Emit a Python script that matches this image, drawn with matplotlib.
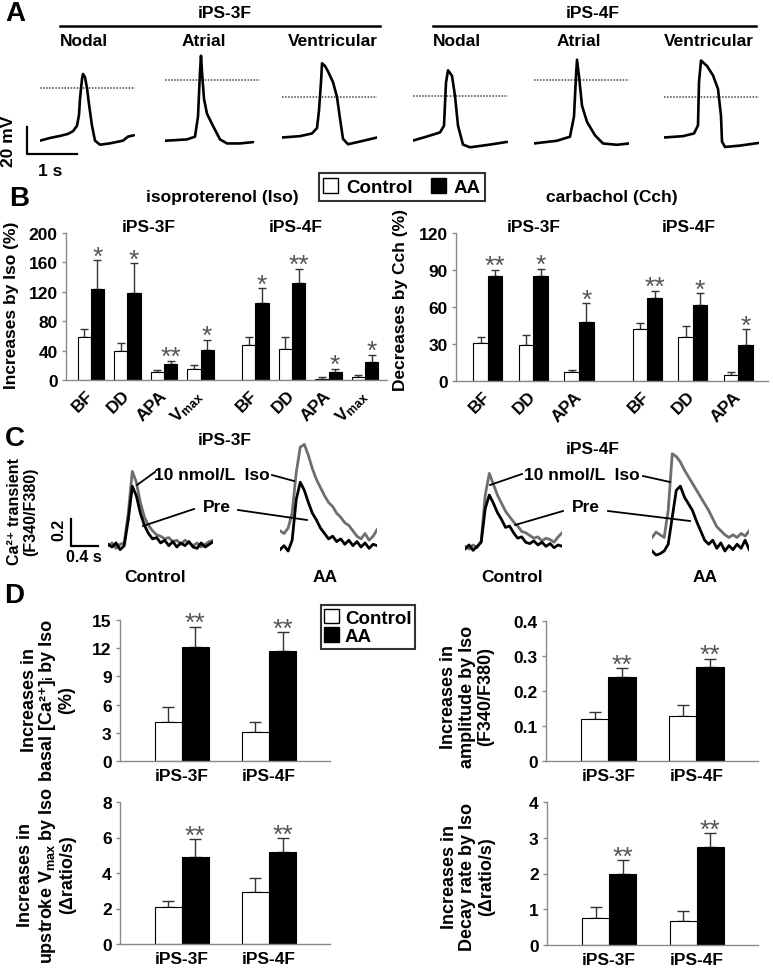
import numpy as np
import matplotlib
matplotlib.use("Agg")
import matplotlib.pyplot as plt
from matplotlib.patches import Patch
from matplotlib.lines import Line2D

plt.rcParams['font.family'] = ['Liberation Sans', 'DejaVu Sans']
plt.rcParams['font.weight'] = 'bold'
plt.rcParams['font.size'] = 12
plt.rcParams['mathtext.fontset'] = 'custom'
plt.rcParams['mathtext.rm'] = 'Liberation Sans:bold'
plt.rcParams['mathtext.bf'] = 'Liberation Sans:bold'
plt.rcParams['mathtext.it'] = 'Liberation Sans:bold:italic'

W, H = 773, 970

# ---- A: action potentials (time in s, membrane potential in mV, 0 mV = dotted line)
ap_3f_nodal_t = [0, 0.2, 0.4, 0.56, 0.66, 0.74, 0.78, 0.8, 0.84, 0.86, 0.9, 0.94, 0.98, 1.04, 1.1, 1.2, 1.4, 1.66, 1.76, 1.88]
ap_3f_nodal_v = [-39, -37, -35.5, -34, -32, -28, -20, -8, 6.7, 10.4, 8, 0, -12, -28, -39, -42, -41, -39, -36, -35]
ap_3f_atrial_t = [0, 0.44, 0.6, 0.66, 0.7, 0.72, 0.74, 0.78, 0.84, 0.96, 1.1, 1.24, 1.5, 1.76]
ap_3f_atrial_v = [-45, -44, -42, -27, 6, 18, 6, -14, -25, -34, -44, -47, -47, -46]
ap_3f_ventr_t = [0, 0.36, 0.6, 0.7, 0.74, 0.78, 0.8, 0.86, 0.92, 1.02, 1.1, 1.16, 1.22, 1.32, 1.56, 1.9]
ap_3f_ventr_v = [-30, -29, -27, -23, -10, 11, 25, 23, 19, 11, 0, -16, -31, -35, -33, -30]
ap_4f_nodal_t = [0, 0.28, 0.54, 0.62, 0.66, 0.7, 0.78, 0.84, 0.9, 1.0, 1.14, 1.54, 1.88]
ap_4f_nodal_v = [-33, -30, -27, -22, 10, 19, 15, 0, -22, -36, -38, -36, -34]
ap_4f_atrial_t = [0, 0.46, 0.72, 0.8, 0.84, 0.86, 0.9, 0.96, 1.06, 1.22, 1.38, 1.66, 1.9]
ap_4f_atrial_v = [-47, -45, -42, -27, 3, 15, 3, -19, -31, -41, -47, -48, -47]
ap_4f_ventr_t = [0, 0.38, 0.6, 0.68, 0.7, 0.74, 0.8, 0.86, 0.98, 1.08, 1.14, 1.16, 1.22, 1.52, 1.9]
ap_4f_ventr_v = [-30, -29, -27, -21, 11, 27, 25, 23, 16, 6, -14, -33, -37, -36, -34]
ap_names = ["Nodal", "Atrial", "Ventricular"]

# ---- B: isoproterenol / carbachol responses
iso_labels = ["BF", "DD", "APA", r"V$_{\mathregular{max}}$"]
iso_ctrl_3f, iso_ctrl_3f_err = [58, 39, 11, 15], [12, 11, 3, 5]
iso_aa_3f, iso_aa_3f_err = [124, 118, 22, 41], [39, 41, 4, 14]
iso_ctrl_4f, iso_ctrl_4f_err = [48, 42, 2, 4], [10, 17, 2, 3]
iso_aa_4f, iso_aa_4f_err = [105, 132, 11, 24], [20, 19, 4, 10]
iso_sig_3f = ["*", "*", "**", "*"]
iso_sig_4f = ["*", "**", "*", "*"]

cch_labels = ["BF", "DD", "APA"]
cch_ctrl_3f, cch_ctrl_3f_err = [31, 29, 7], [5, 8, 2]
cch_aa_3f, cch_aa_3f_err = [85, 85, 48], [5, 6, 15]
cch_ctrl_4f, cch_ctrl_4f_err = [42, 36, 5], [5, 9, 2]
cch_aa_4f, cch_aa_4f_err = [67, 62, 29], [6, 9, 13]
cch_sig_3f = ["**", "*", "*"]
cch_sig_4f = ["**", "*", "*"]

# ---- C: Ca2+ transients (F340/F380 above baseline), sampled every 0.06 s
ca_dt = 0.06
ca_3f_ctrl_pre = [0.02, 0.00, 0.03, -0.02, 0.01, 0.20, 0.45, 0.38, 0.25, 0.16, 0.10, 0.06, 0.07, 0.03,
                  0.05, 0.01, 0.04, 0.00, 0.03, 0.01, 0.04, 0.00, -0.01, 0.03, 0.00, 0.02, 0.04]
ca_3f_ctrl_iso = [0.01, 0.03, -0.01, 0.02, 0.03, 0.25, 0.56, 0.48, 0.33, 0.22, 0.16, 0.12, 0.09, 0.08,
                  0.06, 0.07, 0.04, 0.05, 0.02, 0.05, 0.03, 0.01, 0.03, 0.00, 0.02, 0.04, 0.05]
ca_3f_aa_pre = [-0.02, 0.01, -0.03, 0.05, 0.35, 0.48, 0.42, 0.33, 0.25, 0.20, 0.14, 0.10, 0.06, 0.08,
                0.04, 0.06, 0.02, 0.05, 0.01, 0.04, 0.00, 0.03, -0.01, 0.02, 0.01]
ca_3f_aa_iso = [0.12, 0.10, 0.14, 0.25, 0.55, 0.74, 0.76, 0.68, 0.58, 0.50, 0.44, 0.38, 0.33, 0.30,
                0.25, 0.22, 0.18, 0.16, 0.12, 0.08, 0.06, 0.10, 0.05, 0.08, 0.13]
ca_4f_ctrl_pre = [0.00, 0.03, -0.01, 0.02, 0.05, 0.30, 0.40, 0.34, 0.27, 0.22, 0.16, 0.17, 0.12, 0.08,
                  0.09, 0.05, 0.04, 0.06, 0.03, 0.05, 0.02, 0.04, 0.01, 0.03, 0.02]
ca_4f_ctrl_iso = [0.02, 0.00, 0.03, 0.01, 0.06, 0.40, 0.56, 0.48, 0.40, 0.34, 0.28, 0.24, 0.20, 0.17,
                  0.13, 0.12, 0.10, 0.08, 0.09, 0.06, 0.08, 0.07, 0.05, 0.09, 0.12]
ca_4f_aa_pre = [0.00, -0.03, -0.02, 0.00, 0.05, 0.25, 0.45, 0.48, 0.40, 0.35, 0.30, 0.22, 0.15, 0.08,
                0.05, 0.08, 0.02, 0.06, 0.00, 0.04, 0.01, 0.05, 0.02, 0.08, 0.01]
ca_4f_aa_iso = [0.10, 0.14, 0.12, 0.10, 0.30, 0.72, 0.70, 0.66, 0.60, 0.55, 0.50, 0.45, 0.40, 0.35,
                0.30, 0.24, 0.18, 0.15, 0.12, 0.10, 0.12, 0.10, 0.13, 0.11, 0.15]

# ---- D: Iso effects on Ca2+ handling
d_groups = ["iPS-3F", "iPS-4F"]
basal_ctrl, basal_ctrl_err = [4.1, 3.1], [1.6, 1.0]
basal_aa, basal_aa_err = [12.1, 11.7], [2.2, 2.0]
ampl_ctrl, ampl_ctrl_err = [0.12, 0.13], [0.02, 0.03]
ampl_aa, ampl_aa_err = [0.24, 0.27], [0.025, 0.022]
upvmax_ctrl, upvmax_ctrl_err = [2.1, 2.95], [0.35, 0.75]
upvmax_aa, upvmax_aa_err = [4.9, 5.2], [1.0, 0.75]
decay_ctrl, decay_ctrl_err = [0.76, 0.68], [0.3, 0.28]
decay_aa, decay_aa_err = [2.0, 2.75], [0.37, 0.37]
d_sig = ["**", "**"]

fig = plt.figure(figsize=(W / 100, H / 100), dpi=100)


def fx(x):
    return x / W


def fy(y):
    return 1 - y / H


def px_axes(x0, y0, x1, y1):
    return fig.add_axes([x0 / W, 1 - y1 / H, (x1 - x0) / W, (y1 - y0) / H])


def txt(x, y, s, **kw):
    kw.setdefault('ha', 'center')
    kw.setdefault('va', 'center')
    fig.text(fx(x), fy(y), s, **kw)


def seg(x0, y0, x1, y1, lw=1.3):
    fig.add_artist(Line2D([fx(x0), fx(x1)], [fy(y0), fy(y1)], color='black', lw=lw))


def style(ax):
    for s in ['top', 'right']:
        ax.spines[s].set_visible(False)
    for s in ['left', 'bottom']:
        ax.spines[s].set_color('#8a8a8a')
        ax.spines[s].set_linewidth(1)
    ax.tick_params(axis='y', length=3, color='#8a8a8a', width=1, pad=3, labelsize=12.5)
    ax.tick_params(axis='x', length=0, labelsize=12.5)


def bars(ax, pos, ctrl, ctrl_err, aa, aa_err, sig, w, cap=3, star_off=-6):
    pos = np.asarray(pos, dtype=float)
    ax.bar(pos - w / 2, ctrl, w, color='white', edgecolor='black', lw=0.8, zorder=2)
    ax.bar(pos + w / 2, aa, w, color='black', edgecolor='black', lw=0.8, zorder=2)
    ax.errorbar(pos - w / 2, ctrl, yerr=[np.zeros(len(ctrl)), ctrl_err], fmt='none',
                ecolor='#333333', elinewidth=1, capsize=cap, capthick=1, zorder=1)
    ax.errorbar(pos + w / 2, aa, yerr=[np.zeros(len(aa)), aa_err], fmt='none',
                ecolor='#333333', elinewidth=1, capsize=cap, capthick=1, zorder=1)
    for x, v, e, s in zip(pos + w / 2, aa, aa_err, sig):
        ax.annotate(s, (x, v + e), xytext=(0, star_off), textcoords='offset points',
                    ha='center', va='bottom', color='#555555', fontsize=19, fontweight='normal')


# ================= Panel A =================
txt(15, 14, "A", fontsize=20)
txt(225, 14, "iPS-3F", fontsize=12.5)
txt(593, 14, "iPS-4F", fontsize=12.5)
seg(60, 27, 380, 27, lw=1.8)
seg(433, 27, 756, 27, lw=1.8)
for x, name in zip([84, 204, 333], ap_names):
    txt(x, 42, name, fontsize=12.5)
for x, name in zip([457, 579, 709], ap_names):
    txt(x, 42, name, fontsize=12.5)

ap_traces = [(ap_3f_nodal_t, ap_3f_nodal_v), (ap_3f_atrial_t, ap_3f_atrial_v),
             (ap_3f_ventr_t, ap_3f_ventr_v), (ap_4f_nodal_t, ap_4f_nodal_v),
             (ap_4f_atrial_t, ap_4f_atrial_v), (ap_4f_ventr_t, ap_4f_ventr_v)]
ap_left = [40, 165, 282, 413, 534, 664]
ap_zero = [89, 81, 98, 97, 81, 98]
PX_S, PX_MV = 50, 1.35
for (t, v), x0, yz in zip(ap_traces, ap_left, ap_zero):
    ax = px_axes(x0, 45, x0 + 1.9 * PX_S, 165)
    ax.set_xlim(0, 1.9)
    ax.set_ylim(-(165 - yz) / PX_MV, (yz - 45) / PX_MV)
    ax.axhline(0, color='#444444', lw=1.1, ls=(0, (1, 1)))
    ax.plot(t, v, color='black', lw=1.9, solid_joinstyle='round', solid_capstyle='round')
    ax.axis('off')

# scale bar: 1 s x 20 mV
sb_a = (1, 20)
ax = px_axes(27, 128, 27 + sb_a[0] * PX_S, 128 + sb_a[1] * PX_MV)
ax.plot([0, 0, sb_a[0]], [sb_a[1], 0, 0], color='black', lw=1.6, clip_on=False)
ax.set_xlim(0, sb_a[0])
ax.set_ylim(0, sb_a[1])
ax.axis('off')
txt(9, 141, "20 mV", rotation=90, fontsize=12.5)
txt(50, 171, "1 s", fontsize=12.5)

# ================= Panel B =================
txt(19, 199, "B", fontsize=20)
txt(222, 198, "isoproterenol (Iso)", fontsize=12.5)
txt(612, 198, "carbachol (Cch)", fontsize=12.5)
txt(149, 228, "iPS-3F", fontsize=12.5)
txt(296, 228, "iPS-4F", fontsize=12.5)
txt(534, 227, "iPS-3F", fontsize=12.5)
txt(689, 227, "iPS-4F", fontsize=12.5)

# isoproterenol
axb1 = px_axes(66, 234, 387, 381)
style(axb1)
pos3 = np.arange(4)
pos4 = np.arange(4) + 4.5
bars(axb1, pos3, iso_ctrl_3f, iso_ctrl_3f_err, iso_aa_3f, iso_aa_3f_err, iso_sig_3f, 0.36)
bars(axb1, pos4, iso_ctrl_4f, iso_ctrl_4f_err, iso_aa_4f, iso_aa_4f_err, iso_sig_4f, 0.36)
axb1.set_xlim(-0.68, 8.1)
axb1.set_ylim(0, 200)
axb1.set_yticks(np.arange(0, 201, 40))
axb1.set_xticks(np.concatenate([pos3, pos4]))
axb1.set_xticklabels(iso_labels * 2, rotation=45, ha='right', va='center', rotation_mode='anchor')
axb1.tick_params(axis='x', pad=9)
txt(12, 305, "Increases by Iso (%)", rotation=90, fontsize=12.5)

# carbachol
axb2 = px_axes(456, 234, 768, 382)
style(axb2)
cpos3 = np.arange(3)
cpos4 = np.arange(3) + 3.5
bars(axb2, cpos3, cch_ctrl_3f, cch_ctrl_3f_err, cch_aa_3f, cch_aa_3f_err, cch_sig_3f, 0.32)
bars(axb2, cpos4, cch_ctrl_4f, cch_ctrl_4f_err, cch_aa_4f, cch_aa_4f_err, cch_sig_4f, 0.32)
axb2.set_xlim(-0.7, 6.15)
axb2.set_ylim(0, 120)
axb2.set_yticks(np.arange(0, 121, 30))
axb2.set_xticks(np.concatenate([cpos3, cpos4]))
axb2.set_xticklabels(cch_labels * 2, rotation=45, ha='right', va='center', rotation_mode='anchor')
axb2.tick_params(axis='x', pad=9)
txt(401, 300, "Decreases by Cch (%)", rotation=90, fontsize=12.5)

leg_handles = [Patch(facecolor='white', edgecolor='black', lw=1),
               Patch(facecolor='black', edgecolor='black', lw=1)]
lg = fig.legend(leg_handles, ["Control", "AA"], loc='center', bbox_to_anchor=(fx(402), fy(188)),
                ncol=2, fontsize=13.5, frameon=True, fancybox=False, borderpad=0.25,
                handlelength=0.8, handleheight=0.8, handletextpad=0.4, columnspacing=1.0,
                borderaxespad=0)
lg.get_frame().set_edgecolor('black')
lg.get_frame().set_linewidth(1.5)

# ================= Panel C =================
txt(15, 439, "C", fontsize=20)
txt(225, 441, "iPS-3F", fontsize=12.5)
txt(593, 450, "iPS-4F", fontsize=12.5)
txt(23, 512, "Ca²⁺ transient\n(F340/F380)", rotation=90, fontsize=11.5, linespacing=1.1)

PX_CS, PX_CR = 67.5, 135
ca_sets = [(ca_3f_ctrl_pre, ca_3f_ctrl_iso, 108, 548), (ca_3f_aa_pre, ca_3f_aa_iso, 280, 548),
           (ca_4f_ctrl_pre, ca_4f_ctrl_iso, 465, 550), (ca_4f_aa_pre, ca_4f_aa_iso, 652, 552)]
for pre, iso, x0, base in ca_sets:
    t = np.arange(len(pre)) * ca_dt
    ax = px_axes(x0, 430, x0 + t[-1] * PX_CS, 565)
    ax.plot(t, iso, color='#6e6e6e', lw=2.0, solid_joinstyle='round')
    ax.plot(t, pre, color='black', lw=2.0, solid_joinstyle='round')
    ax.set_xlim(0, t[-1])
    ax.set_ylim(-(565 - base) / PX_CR, (base - 430) / PX_CR)
    ax.axis('off')

sb_c = (0.4, 0.2)
ax = px_axes(71, 520, 71 + sb_c[0] * PX_CS, 520 + sb_c[1] * PX_CR)
ax.plot([0, 0, sb_c[0]], [sb_c[1], 0, 0], color='black', lw=1.6, clip_on=False)
ax.set_xlim(0, sb_c[0])
ax.set_ylim(0, sb_c[1])
ax.axis('off')
txt(59, 530, "0.2", rotation=90, fontsize=11.5)
txt(84, 558, "0.4 s", fontsize=11.5)

txt(212, 475, "10 nmol/L  Iso", fontsize=12.5)
txt(582, 475, "10 nmol/L  Iso", fontsize=12.5)
txt(217, 508, "Pre", fontsize=12.5)
txt(586, 508, "Pre", fontsize=12.5)
seg(155, 473, 137, 486)
seg(272, 476, 294, 482)
seg(194, 510, 143, 527)
seg(238, 511, 307, 521)
seg(522, 475, 490, 486)
seg(643, 477, 670, 483)
seg(563, 512, 515, 526)
seg(608, 512, 690, 522)
txt(155, 577, "Control", fontsize=12.5)
txt(325, 577, "AA", fontsize=12.5)
txt(512, 577, "Control", fontsize=12.5)
txt(705, 577, "AA", fontsize=12.5)

# ================= Panel D =================
txt(14, 596, "D", fontsize=20)
d_pos = np.arange(2)
d_panels = [
    ((120, 621, 330, 762), 15, 3, basal_ctrl, basal_ctrl_err, basal_aa, basal_aa_err,
     (48, 700), "Increases in\nbasal [Ca²⁺]ᵢ by Iso\n(%)", ["0", "3", "6", "9", "12", "15"]),
    ((546, 622, 758, 762), 0.4, 0.1, ampl_ctrl, ampl_ctrl_err, ampl_aa, ampl_aa_err,
     (467, 697), "Increases in\namplitude by Iso\n(F340/F380)", ["0", "0.1", "0.2", "0.3", "0.4"]),
    ((120, 803, 330, 945), 8, 2, upvmax_ctrl, upvmax_ctrl_err, upvmax_aa, upvmax_aa_err,
     (47, 875), "Increases in\nupstroke V$_{\\mathregular{max}}$ by Iso\n(Δratio/s)", ["0", "2", "4", "6", "8"]),
    ((547, 803, 758, 946), 4, 1, decay_ctrl, decay_ctrl_err, decay_aa, decay_aa_err,
     (468, 877), "Increases in\nDecay rate by Iso\n(Δratio/s)", ["0", "1", "2", "3", "4"]),
]
for box, ymax, step, c, ce, a, ae, lab_xy, lab, ticklabs in d_panels:
    ax = px_axes(*box)
    style(ax)
    bars(ax, d_pos, c, ce, a, ae, d_sig, 0.31, cap=4)
    ax.set_xlim(-0.71, 1.7)
    ax.set_ylim(0, ymax)
    ax.set_yticks(np.arange(len(ticklabs)) * step)
    ax.set_yticklabels(ticklabs)
    ax.set_xticks(d_pos)
    ax.set_xticklabels(d_groups)
    ax.tick_params(axis='x', pad=5)
    txt(lab_xy[0], lab_xy[1], lab, rotation=90, fontsize=13, linespacing=1.15,
        multialignment='center')

lg2 = fig.legend(leg_handles, ["Control", "AA"], loc='center', bbox_to_anchor=(fx(368), fy(628)),
                 ncol=1, fontsize=13.5, frameon=True, fancybox=False, borderpad=0.2,
                 handlelength=0.8, handleheight=0.8, handletextpad=0.3, labelspacing=0.05,
                 borderaxespad=0)
lg2.get_frame().set_edgecolor('black')
lg2.get_frame().set_linewidth(1.5)

fig.savefig("out.png", dpi=100)
